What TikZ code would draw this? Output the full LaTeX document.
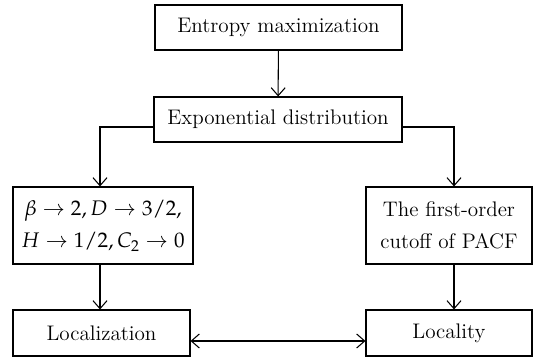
\documentclass[tikz,border=0pt]{standalone}
\usepackage{amsmath}
\usepackage{mathpazo}
\usepackage{tikz}
\usetikzlibrary{arrows.meta,positioning}
\tikzset{
  box/.style={draw=black,line width=0.6pt,align=center,inner sep=0pt,font=\fontsize{12}{18.5}\selectfont},
  arr/.style={-{Straight Barb[length=1.6mm,width=2.8mm]},draw=black,line width=0.6pt},
  biarr/.style={{Straight Barb[length=1.6mm,width=2.8mm]}-{Straight Barb[length=1.6mm,width=2.8mm]},draw=black,line width=0.6pt}
}

\begin{document}
\begin{tikzpicture}
  \useasboundingbox (0,0) rectangle (10.66,7.16);
  \node[box,minimum width=4.94cm,minimum height=0.9cm] (ent) at (5.57,6.61) {Entropy maximization};
  \node[box,minimum width=4.96cm,minimum height=0.9cm] (exp) at (5.56,4.77) {Exponential distribution};
  \node[box,minimum width=3.6cm,minimum height=1.54cm] (lim) at (2.06,2.65) {$\beta \to 2, D \to 3/2,$\\$H \to 1/2, C_2 \to 0$};
  \node[box,minimum width=3.32cm,minimum height=1.54cm] (cut) at (8.98,2.65) {The first-order\\cutoff of PACF};
  \node[box,minimum width=3.54cm,minimum height=0.92cm] (loc) at (2.03,0.5) {Localization};
  \node[box,minimum width=3.32cm,minimum height=0.92cm] (lty) at (8.98,0.5) {Locality};

  \draw[arr] (ent) -- (exp);
  \draw[arr] ([yshift=-0.15cm]exp.west) -| ([xshift=-0.06cm]lim.north);
  \draw[arr] ([yshift=-0.15cm]exp.east) -| ([xshift=0.1cm]cut.north);
  \draw[arr] ([xshift=-0.06cm]lim.south) -- ([xshift=-0.06cm]lim.south |- loc.north);
  \draw[arr] ([xshift=0.1cm]cut.south) -- ([xshift=0.1cm]cut.south |- lty.north);
  \draw[biarr] ([yshift=-0.16cm]loc.east) -- ([yshift=-0.16cm]loc.east -| lty.west);
\end{tikzpicture}
\end{document}
